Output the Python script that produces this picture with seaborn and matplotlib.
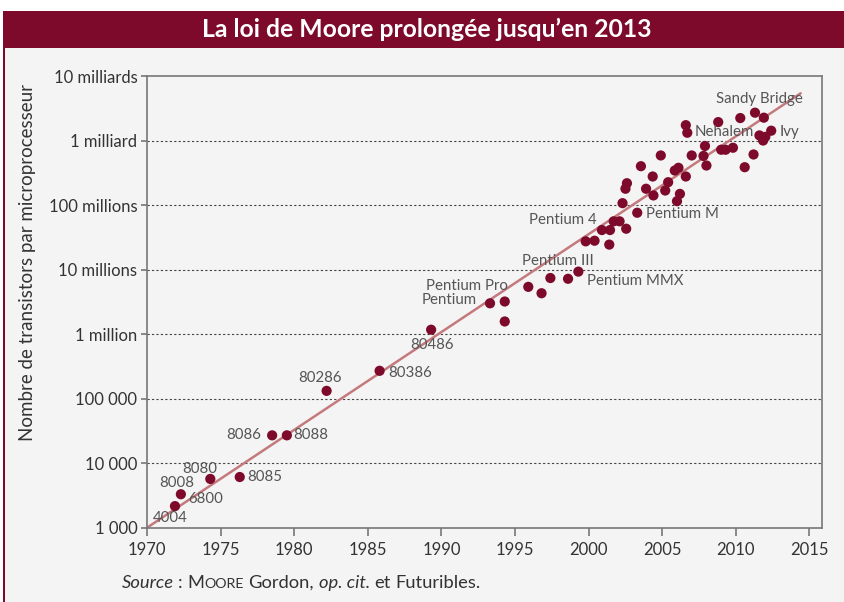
import numpy as np
import pandas as pd
import matplotlib
matplotlib.use("Agg")
import matplotlib.pyplot as plt
from matplotlib.patches import Rectangle
import seaborn as sns

# ---------------- data ----------------
years = [1971.9, 1972.3, 1974.3, 1976.3, 1978.5, 1979.5, 1982.2, 1985.8, 1989.3,
         1993.3, 1994.3, 1994.3, 1995.9, 1996.8, 1997.4, 1998.6, 1999.3, 1999.8,
         2000.4, 2001.4, 2000.9, 2001.45, 2001.7, 2002.1, 2002.55, 2002.3, 2003.3,
         2002.6, 2002.5, 2003.9, 2004.4, 2005.4, 2005.2, 2006.2, 2006.0, 2003.55,
         2004.9, 2004.35, 2006.1, 2005.85, 2006.6, 2007.0, 2006.6, 2006.7, 2007.9,
         2007.8, 2008.0, 2009.0, 2009.3, 2009.8, 2011.2, 2010.6, 2008.8, 2010.3,
         2011.3, 2011.9, 2012.4, 2011.6, 2011.85, 2012.0]
transistors = [2160, 3300, 5700, 6100, 27000, 27000, 132000, 270000, 1.17e6,
               3.0e6, 3.2e6, 1.57e6, 5.4e6, 4.3e6, 7.4e6, 7.2e6, 9.3e6, 27.4e6,
               28e6, 24.4e6, 41e6, 41e6, 56e6, 56e6, 43e6, 107e6, 76e6,
               218e6, 179e6, 179e6, 141e6, 226e6, 168e6, 149e6, 115e6, 400e6,
               587e6, 277e6, 378e6, 343e6, 277e6, 587e6, 1.73e9, 1.32e9, 824e6,
               577e6, 410e6, 720e6, 720e6, 773e6, 608e6, 386e6, 1.93e9, 2.23e9,
               2.70e9, 2.26e9, 1.42e9, 1.20e9, 1.0e9, 1.14e9]

label_names = ["4004", "8008", "6800", "8080", "8085", "8086", "8088", "80286",
               "80386", "80486", "Pentium", "Pentium Pro", "Pentium III",
               "Pentium MMX", "Pentium 4", "Pentium M", "Nehalem", "Sandy Bridge", "Ivy"]
label_years = [1971.9, 1972.3, 1972.3, 1974.3, 1976.3, 1978.5, 1979.5, 1982.2,
               1985.8, 1989.3, 1993.3, 1994.3, 1999.3, 1999.3, 2000.9, 2003.3,
               2006.7, 2011.3, 2012.4]
label_values = [2160, 3300, 3300, 5700, 6100, 27000, 27000, 132000, 270000, 1.17e6,
                3.0e6, 3.2e6, 9.3e6, 9.3e6, 41e6, 76e6, 1.32e9, 2.70e9, 1.42e9]

trend_years = [1970, 2014.4]
trend_values = [1e3, 5.4e9]

x_ticks = [1970, 1975, 1980, 1985, 1990, 1995, 2000, 2005, 2010, 2015]
y_ticks = [1e3, 1e4, 1e5, 1e6, 1e7, 1e8, 1e9, 1e10]
y_tick_labels = ["1 000", "10 000", "100 000", "1 million", "10 millions",
                 "100 millions", "1 milliard", "10 milliards"]

title = "La loi de Moore prolongée jusqu\u2019en 2013"
y_title = "Nombre de transistors par microprocesseur"

# ---------------- style ----------------
label_style = [  # dx, dy (pixels), ha
    (-5, -12, "center"), (-4, 11, "center"), (7, -4.5, "left"), (-10.5, 10, "center"),
    (8, 0, "left"), (-10.7, 0, "right"), (6, 0, "left"), (-7, 13, "center"),
    (9, -2, "left"), (1, -15, "center"), (-13, 3.7, "right"), (3.3, 15.7, "right"),
    (-20, 11, "center"), (8.7, -9, "left"), (-5.3, 10.3, "right"), (8.3, -1.7, "left"),
    (7.7, 0.6, "left"), (4.5, 13.3, "center"), (8.3, -1, "left")]

sns.set_style("white")
FONT = "Lato"
plt.rcParams["font.family"] = [FONT, "DejaVu Sans"]

W, H = 844, 602
RED = "#7d0a2b"
BG = "#f4f4f4"
fig = plt.figure(figsize=(W / 100, H / 100), dpi=100, facecolor="white")

# background panel, title bar, left border
fig.patches.append(Rectangle((3 / W, 0), 1 - 3 / W, (H - 47) / H, transform=fig.transFigure,
                             facecolor=BG, edgecolor="none", zorder=-3))
fig.patches.append(Rectangle((3 / W, (H - 47.5) / H), 1 - 3 / W, 36.5 / H,
                             transform=fig.transFigure, facecolor=RED, edgecolor="none", zorder=-2))
fig.patches.append(Rectangle((3 / W, 0), 2.4 / W, (H - 46) / H, transform=fig.transFigure,
                             facecolor=RED, edgecolor="none", zorder=-2))
fig.text(427 / W, 1 - 29.5 / H, title, color="white", fontsize=17.8, fontweight="bold",
         ha="center", va="center")

ax = fig.add_axes([147 / W, (H - 527.7) / H, (822 - 147) / W, (527.7 - 76) / H])
ax.set_zorder(2)
ax.set_facecolor(BG)

df = pd.DataFrame({"year": years, "transistors": transistors})
tr = pd.DataFrame({"year": trend_years, "transistors": trend_values})

sns.lineplot(data=tr, x="year", y="transistors", ax=ax, color="#c47a7d", lw=1.8, zorder=2)
sns.scatterplot(data=df, x="year", y="transistors", ax=ax, color=RED, s=54,
                edgecolor="none", linewidth=0, zorder=3)

ax.set_yscale("log")
ax.set_xlim(1970, 2015.85)
ax.set_ylim(1e3, 1e10)
ax.set_xticks(x_ticks)
ax.set_xticklabels([str(t) for t in x_ticks])
ax.set_yticks(y_ticks)
ax.set_yticklabels(y_tick_labels)
ax.minorticks_off()
ax.set_xlabel("")
ax.set_ylabel("")
ax.tick_params(axis="x", length=6, width=1.2, color="#777777", pad=4,
               labelsize=12, labelcolor="#333333", direction="out", bottom=True)
ax.tick_params(axis="y", length=4, width=1.2, color="#777777", pad=3,
               labelsize=12, labelcolor="#333333", direction="out", left=True)
for s in ax.spines.values():
    s.set_color("#777777")
    s.set_linewidth(1.2)

for v in y_ticks[1:-1]:
    ax.axhline(v, color="#444444", lw=0.8, ls=(0, (2, 2)), zorder=1)

for name, yr, val, (dx, dy, ha) in zip(label_names, label_years, label_values, label_style):
    ax.annotate(name, xy=(yr, val), xytext=(dx, dy), textcoords="offset pixels",
                ha=ha, va="center", fontsize=10.8, color="#555555", zorder=4)

fig.text(28 / W, 1 - 263 / H, y_title, rotation=90, ha="center", va="center",
         fontsize=13.5, color="#333333")

# source line (mixed styles)
renderer = fig.canvas.get_renderer()
pieces = [("Source", dict(style="italic", fontsize=13.2), 4),
          (":", dict(fontsize=13.2), 5),
          ("M", dict(fontsize=13.2), 0.5),
          ("OORE", dict(fontsize=10.3), 4.5),
          ("Gordon,", dict(fontsize=13.2), 4.5),
          ("op. cit.", dict(style="italic", fontsize=13.2), 4.5),
          ("et", dict(fontsize=13.2), 4.5),
          ("Futuribles.", dict(fontsize=13.2), 0)]
x = 121.5
for s, kw, gap in pieces:
    t = fig.text(x / W, 14 / H, s, ha="left", va="baseline", color="#333333", **kw)
    bb = t.get_window_extent(renderer)
    x = bb.x1 + gap

fig.savefig("out.png", dpi=100, facecolor=fig.get_facecolor())
